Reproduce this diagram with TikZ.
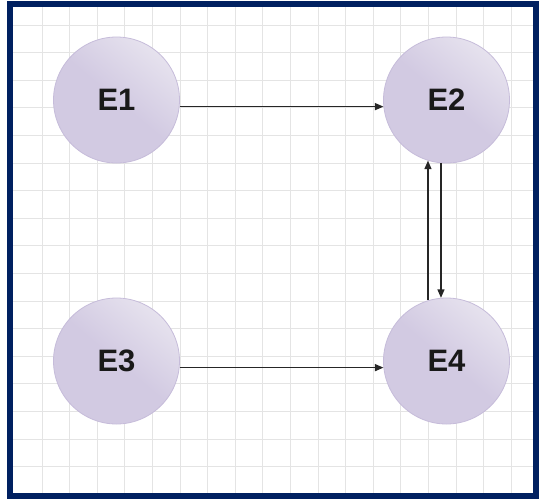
\documentclass[tikz,border=0pt]{standalone}
\usepackage{fontspec}
\setmainfont{Liberation Sans}
\usetikzlibrary{arrows.meta}
\definecolor{frameblue}{RGB}{0,32,96}
\definecolor{lav}{RGB}{210,202,226}
\definecolor{lavlight}{RGB}{230,226,238}
\definecolor{lavedge}{RGB}{198,188,218}
\definecolor{gridgray}{RGB}{228,228,228}
\begin{document}
\begin{tikzpicture}[x=1pt, y=1pt, >={Triangle[length=8.5pt,width=7pt]},
  state/.style={circle, minimum size=126pt, inner sep=0pt,
    draw=lavedge, line width=0.8pt,
    shading=axis, top color=lavlight, bottom color=lav, middle color=lav, shading angle=-40,
    font=\fontsize{31}{36}\selectfont\bfseries, text=black!90},
  link/.style={->, line width=1.3pt, black!85}]
  \useasboundingbox (0,0) rectangle (549,-499);
  % Background grid
  \fill[white] (9,-4) rectangle (536,-495);
  \foreach \k in {0,...,17}
    \draw[gridgray, line width=1pt] ({42+27.6*\k},-6) -- ({42+27.6*\k},-493);
  \foreach \k in {0,...,16}
    \draw[gridgray, line width=1pt] (12,{-25-27.6*\k}) -- (533,{-25-27.6*\k});
  % Frame
  \draw[frameblue, line width=6pt] (9.5,-4) rectangle (536,-495.5);
  % States
  \node[state] (e1) at (116.5,-100) {E1};
  \node[state] (e2) at (446.5,-100) {E2};
  \node[state] (e3) at (116.5,-361) {E3};
  \node[state] (e4) at (446.5,-361) {E4};
  % Transitions
  \draw[link] (e1.-6) -- (e2.186);
  \draw[link] (e3.-6) -- (e4.186);
  \draw[link] (e4.107) -- (e2.253);
  \draw[link] (e2.-95) -- (e4.95);
\end{tikzpicture}
\end{document}
